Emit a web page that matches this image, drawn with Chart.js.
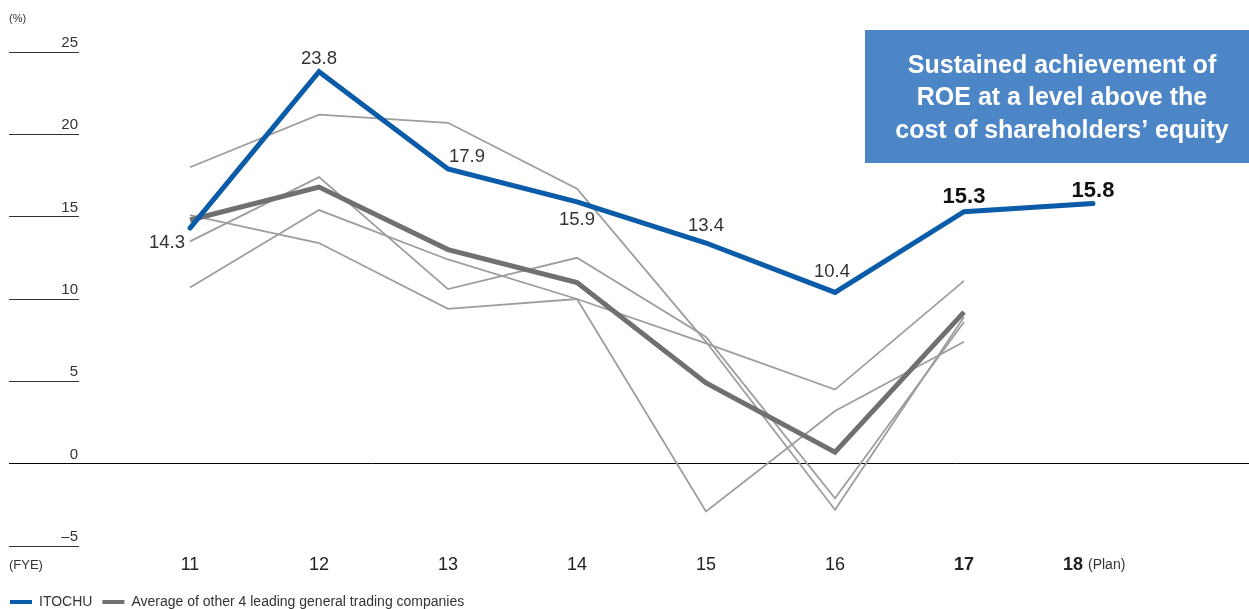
<!DOCTYPE html>
<html>
<head>
<meta charset="utf-8">
<script src="https://cdn.jsdelivr.net/npm/chart.js@4.4.1/dist/chart.umd.min.js"></script>
<style>
  html, body { margin: 0; padding: 0; background: #ffffff; }
  #wrap { position: relative; width: 1249px; height: 609px; }
</style>
</head>
<body>
<div id="wrap"><canvas id="c" width="1249" height="609"></canvas></div>
<script>
// ---- data ----
const fiscalYears = [11, 12, 13, 14, 15, 16, 17, 18];
const yTicks = [-5, 0, 5, 10, 15, 20, 25];
const itochu = [14.3, 23.8, 17.9, 15.9, 13.4, 10.4, 15.3, 15.8];
const averageOthers = [14.8, 16.8, 13.0, 11.0, 4.9, 0.7, 9.2, null];
const companyA = [18.0, 21.2, 20.7, 16.7, 7.4, -2.8, 8.9, null];
const companyB = [13.5, 17.4, 10.6, 12.5, 7.7, -2.1, 8.6, null];
const companyC = [10.7, 15.4, 12.4, 10.0, 7.3, 4.5, 11.1, null];
const companyD = [15.1, 13.4, 9.4, 10.0, -2.9, 3.2, 7.4, null];
const seriesNames = ['ITOCHU', 'Average of other 4 leading general trading companies'];
const calloutLines = ['Sustained achievement of', 'ROE at a level above the', 'cost of shareholders\u2019 equity'];

const FONT = '"Liberation Sans", Arial, Helvetica, sans-serif';
const BLUE = '#0a5ba8';
const DARKGRAY = '#707072';
const LIGHTGRAY = '#9d9d9d';

function pts(arr) {
  return fiscalYears.map((x, i) => ({ x: x, y: arr[i] })).filter(p => p.y !== null);
}

// label offsets for ITOCHU values (style only)
const labelDX = [-23, 0, 19, 0, 0, -3, 0, 0];
const labelDY = [15, -13, -12, 18, -17, -21, -15, -13];

const extrasPlugin = {
  id: 'extras',
  beforeDatasetsDraw(chart) {
    const ctx = chart.ctx;
    ctx.save();
    // callout box
    ctx.fillStyle = '#4c86c6';
    ctx.fillRect(865, 30, 384, 133);
    ctx.fillStyle = '#ffffff';
    ctx.font = 'bold 25px ' + FONT;
    ctx.textAlign = 'center';
    ctx.textBaseline = 'middle';
    calloutLines.forEach((t, i) => ctx.fillText(t, 1062, 66 + i * 32.5));
    // unit labels
    ctx.fillStyle = '#333';
    ctx.textAlign = 'left';
    ctx.font = '11px ' + FONT;
    ctx.fillText('(%)', 9, 19);
    ctx.font = '13px ' + FONT;
    ctx.fillText('(FYE)', 9, 565);
    ctx.restore();
  },
  afterDatasetsDraw(chart) {
    const ctx = chart.ctx;
    const meta = chart.getDatasetMeta(0);
    ctx.save();
    ctx.textAlign = 'center';
    ctx.textBaseline = 'middle';
    meta.data.forEach((el, i) => {
      const bold = fiscalYears[i] >= 17;
      ctx.font = (bold ? 'bold 22px ' : '18.5px ') + FONT;
      ctx.fillStyle = bold ? '#111' : '#333';
      ctx.fillText(itochu[i].toFixed(1), el.x + labelDX[i], el.y + labelDY[i]);
    });
    // "(Plan)" next to the last year label
    const xs = chart.scales.x;
    const px = xs.getPixelForValue(fiscalYears[fiscalYears.length - 1]);
    ctx.font = '14px ' + FONT;
    ctx.fillStyle = '#333';
    ctx.textAlign = 'left';
    ctx.fillText('(Plan)', px - 5, 565);
    ctx.restore();
  }
};

const thin = (label, data) => ({
  label: label, data: pts(data), borderColor: LIGHTGRAY, borderWidth: 1.8,
  pointRadius: 0, fill: false, tension: 0
});

new Chart(document.getElementById('c'), {
  type: 'line',
  data: {
    datasets: [
      { label: seriesNames[0], data: pts(itochu), borderColor: BLUE, backgroundColor: BLUE,
        borderWidth: 5, pointRadius: 0, tension: 0, borderCapStyle: 'round', borderJoinStyle: 'miter' },
      { label: seriesNames[1], data: pts(averageOthers), borderColor: DARKGRAY, backgroundColor: DARKGRAY,
        borderWidth: 5, pointRadius: 0, tension: 0, borderJoinStyle: 'miter' },
      thin('Company A', companyA),
      thin('Company B', companyB),
      thin('Company C', companyC),
      thin('Company D', companyD)
    ]
  },
  options: {
    responsive: false,
    animation: false,
    layout: { padding: { top: 52, right: 0, left: 0, bottom: -10 } },
    plugins: {
      tooltip: { enabled: false },
      legend: {
        position: 'bottom',
        align: 'start',
        labels: {
          generateLabels: (chart) => Chart.defaults.plugins.legend.labels.generateLabels(chart)
            .filter(it => it.datasetIndex < 2)
            .map(it => Object.assign(it, { lineWidth: 0, strokeStyle: 'rgba(0,0,0,0)' })),
          boxWidth: 22, boxHeight: 4, padding: 10,
          color: '#333',
          font: { family: FONT, size: 14 }
        }
      }
    },
    scales: {
      x: {
        type: 'linear',
        min: 10.1395, max: 19.2093,
        afterBuildTicks: (s) => { s.ticks = fiscalYears.map(v => ({ value: v })); },
        afterFit: (s) => { s.height = 39; },
        grid: { display: false },
        border: { display: false },
        ticks: {
          padding: 0,
          color: '#222',
          callback: (v) => (v === 18 ? '18        ' : String(v)),
          font: (c) => ({ family: FONT, size: 18, weight: (c.tick && c.tick.value >= 17) ? 'bold' : 'normal' })
        }
      },
      y: {
        min: -5, max: 25,
        afterBuildTicks: (s) => { s.ticks = yTicks.map(v => ({ value: v })); },
        afterFit: (s) => { s.width = 79; },
        border: { display: false },
        grid: {
          drawTicks: true,
          tickLength: 70,
          lineWidth: 1,
          color: (c) => (c.tick && c.tick.value === 0 ? '#000' : 'rgba(0,0,0,0)'),
          tickColor: (c) => (c.tick && c.tick.value === 0 ? '#000' : '#333')
        },
        ticks: {
          padding: -69,
          labelOffset: -9,
          color: '#333',
          font: { family: FONT, size: 15 },
          callback: (v) => (v < 0 ? '\u2013' + Math.abs(v) : String(v))
        }
      }
    }
  },
  plugins: [extrasPlugin]
});
</script>
</body>
</html>
